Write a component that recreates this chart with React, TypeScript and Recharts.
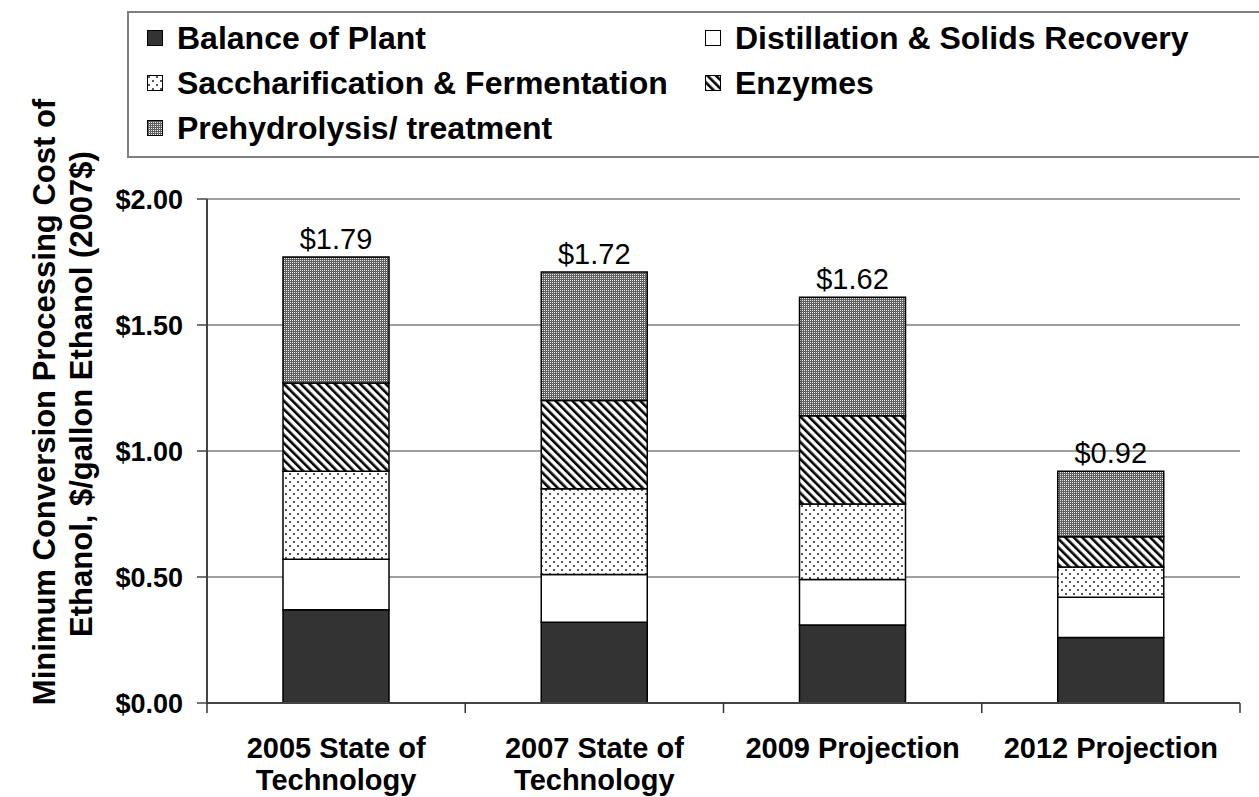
import React from "react";
import { BarChart, Bar, XAxis, YAxis, CartesianGrid, LabelList } from "recharts";

const categories = [
  "2005 State of Technology",
  "2007 State of Technology",
  "2009 Projection",
  "2012 Projection",
];
const tickLines = [
  ["2005 State of", "Technology"],
  ["2007 State of", "Technology"],
  ["2009 Projection"],
  ["2012 Projection"],
];
const balanceOfPlant = [0.37, 0.32, 0.31, 0.26];
const distillation = [0.2, 0.19, 0.18, 0.16];
const saccharification = [0.35, 0.34, 0.3, 0.12];
const enzymes = [0.35, 0.35, 0.35, 0.12];
const prehydrolysis = [0.5, 0.51, 0.47, 0.26];
const totalLabels = ["$1.79", "$1.72", "$1.62", "$0.92"];
const yTicks = [0, 0.5, 1, 1.5, 2];

const series = [
  { key: "balance", name: "Balance of Plant", fill: "#333333" },
  { key: "distillation", name: "Distillation & Solids Recovery", fill: "#ffffff" },
  { key: "saccharification", name: "Saccharification & Fermentation", fill: "url(#dots)" },
  { key: "enzymes", name: "Enzymes", fill: "url(#stripes)" },
  { key: "prehydrolysis", name: "Prehydrolysis/ treatment", fill: "url(#checker)" },
];

const data = categories.map((c, i) => ({
  name: c,
  balance: balanceOfPlant[i],
  distillation: distillation[i],
  saccharification: saccharification[i],
  enzymes: enzymes[i],
  prehydrolysis: prehydrolysis[i],
  label: totalLabels[i],
}));

const FONT = '"Liberation Sans", Arial, Helvetica, sans-serif';

const Patterns = () => (
  <svg width={0} height={0} style={{ position: "absolute" }}>
    <defs>
      <pattern id="dots" width={8} height={8} patternUnits="userSpaceOnUse">
        <rect width={8} height={8} fill="#fff" />
        <rect x={1} y={1} width={2} height={2} fill="#555" />
        <rect x={5} y={5} width={2} height={2} fill="#555" />
      </pattern>
      <pattern
        id="stripes"
        width={6}
        height={6}
        patternUnits="userSpaceOnUse"
        patternTransform="rotate(-45)"
      >
        <rect width={6} height={6} fill="#fff" />
        <rect x={0} y={0} width={2.6} height={6} fill="#000" />
      </pattern>
      <pattern id="checker" width={2} height={2} patternUnits="userSpaceOnUse">
        <rect width={2} height={2} fill="#606060" />
        <rect x={0} y={0} width={1} height={1} fill="#e8e8e8" />
      </pattern>
    </defs>
  </svg>
);

const CategoryTick = (props: any) => {
  const { x, y, payload, width } = props;
  const half = payload.offset ?? width / categories.length / 2;
  const lines = tickLines[payload.index] ?? [payload.value];
  return (
    <g>
      <line x1={x + half} y1={y - 8} x2={x + half} y2={y + 2} stroke="#333" strokeWidth={1.5} />
      {payload.index === 0 && (
        <line x1={x - half} y1={y - 8} x2={x - half} y2={y + 2} stroke="#333" strokeWidth={1.5} />
      )}
      {lines.map((l: string, k: number) => (
        <text
          key={k}
          x={x}
          y={y + 47 + k * 32}
          textAnchor="middle"
          fontFamily={FONT}
          fontWeight="bold"
          fontSize={29}
          fill="#000"
        >
          {l}
        </text>
      ))}
    </g>
  );
};

const LegendIcon = ({ fill }: { fill: string }) => (
  <svg width={16} height={16} style={{ display: "block" }}>
    <rect x={0.5} y={0.5} width={15} height={15} fill={fill} stroke="#000" strokeWidth={1} />
  </svg>
);

const legendPos = [
  { left: 147, top: 38 },
  { left: 705, top: 38 },
  { left: 147, top: 83 },
  { left: 705, top: 83 },
  { left: 147, top: 128 },
];

export default function App() {
  return (
    <div
      style={{
        position: "absolute",
        left: 0,
        top: 0,
        width: 1259,
        height: 797,
        background: "#fff",
        overflow: "hidden",
        fontFamily: FONT,
      }}
    >
      <Patterns />
      <BarChart
        width={1259}
        height={797}
        data={data}
        margin={{ top: 199, right: 19, bottom: 0, left: 0 }}
        barSize={106}
      >
        <CartesianGrid vertical={false} stroke="#7f7f7f" strokeWidth={1.3} />
        <XAxis
          dataKey="name"
          height={94}
          axisLine={{ stroke: "#444", strokeWidth: 2 }}
          tickLine={false}
          interval={0}
          tick={<CategoryTick />}
        />
        <YAxis
          width={207}
          domain={[0, 2]}
          ticks={yTicks}
          interval={0}
          axisLine={{ stroke: "#444", strokeWidth: 2 }}
          tickLine={{ stroke: "#444", strokeWidth: 1.5 }}
          tickSize={10}
          tickMargin={14}
          tickFormatter={(v: number) => `$${v.toFixed(2)}`}
          tick={{ fill: "#000", fontFamily: FONT, fontWeight: "bold", fontSize: 27 }}
        />
        {series.map((s, i) => (
          <Bar
            key={s.key}
            dataKey={s.key}
            name={s.name}
            stackId="a"
            fill={s.fill}
            stroke="#000"
            strokeWidth={1.5}
            isAnimationActive={false}
          >
            {i === series.length - 1 && (
              <LabelList
                dataKey="label"
                position="top"
                offset={8}
                fill="#000"
                fontFamily={FONT}
                fontSize={29}
              />
            )}
          </Bar>
        ))}
      </BarChart>

      <svg
        width={120}
        height={797}
        style={{ position: "absolute", left: 0, top: 0, pointerEvents: "none" }}
      >
        <g transform="translate(44,402) rotate(-90)">
          <text
            textAnchor="middle"
            dominantBaseline="central"
            fontFamily={FONT}
            fontWeight="bold"
            fontSize={31}
            fill="#000"
          >
            Minimum Conversion Processing Cost of
          </text>
        </g>
        <g transform="translate(81,394) rotate(-90)">
          <text
            textAnchor="middle"
            dominantBaseline="central"
            fontFamily={FONT}
            fontWeight="bold"
            fontSize={31}
            fill="#000"
          >
            Ethanol, $/gallon Ethanol (2007$)
          </text>
        </g>
      </svg>

      <div
        style={{
          position: "absolute",
          left: 127,
          top: 11,
          width: 1160,
          height: 143,
          border: "2px solid #7f7f7f",
          background: "#fff",
        }}
      />
      {series.map((s, i) => {
        const p = legendPos[i];
        return (
          <div
            key={s.key}
            style={{
              position: "absolute",
              left: p.left,
              top: p.top - 20,
              height: 40,
              display: "flex",
              alignItems: "center",
              gap: 14,
              whiteSpace: "nowrap",
            }}
          >
            <LegendIcon fill={s.fill} />
            <span style={{ fontWeight: "bold", fontSize: 32, color: "#000" }}>{s.name}</span>
          </div>
        );
      })}
    </div>
  );
}
